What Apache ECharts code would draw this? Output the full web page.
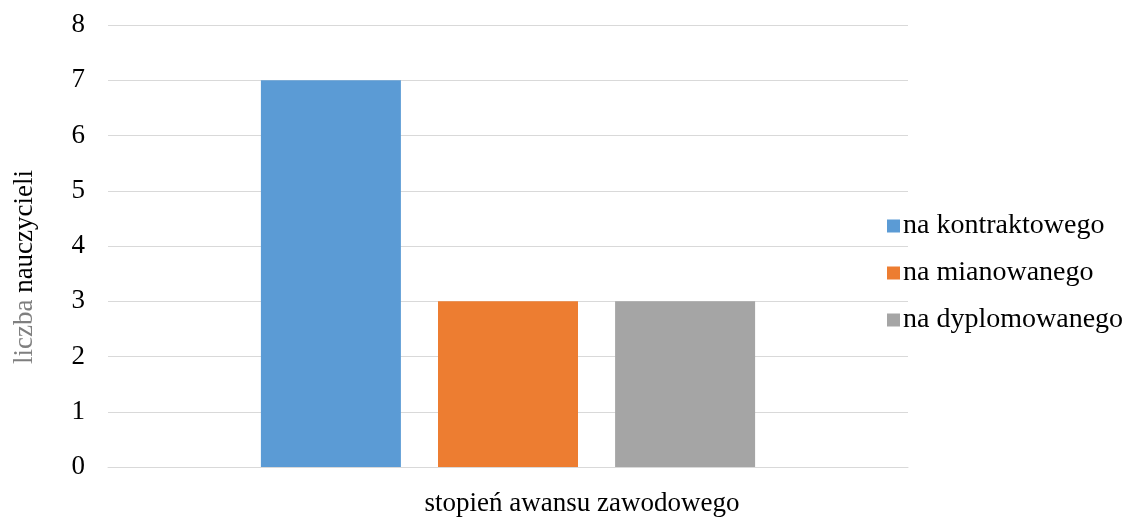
<!DOCTYPE html>
<html><head><meta charset="utf-8">
<script src="https://cdn.jsdelivr.net/npm/echarts@6/dist/echarts.min.js"></script>
<style>html,body{margin:0;padding:0;background:#fff;overflow:hidden}#c{width:1127px;height:518px}</style>
</head><body><div id="c"></div>
<script>
const categories = ['stopień awansu zawodowego'];
const seriesNames = ['na kontraktowego', 'na mianowanego', 'na dyplomowanego'];
const seriesValues = [[7], [3], [3]];
const colors = ['#5B9BD5', '#ED7D31', '#A5A5A5'];
const yTicks = [0, 8, 1];

const chart = echarts.init(document.getElementById('c'));
const font = 'Liberation Serif';
const fs = 27;
chart.setOption({
  animation: false,
  textStyle: { fontFamily: font },
  grid: { left: 108, right: 219, top: 25, bottom: 51, containLabel: false, outerBoundsMode: 'none' },
  legend: {
    orient: 'vertical', left: 882, top: 207, itemWidth: 13, itemHeight: 13, itemGap: 19,
    icon: 'rect',
    textStyle: { fontFamily: font, fontSize: 28, color: '#000', padding: [0, 0, 0, -2] },
    data: seriesNames
  },
  xAxis: {
    type: 'category', data: categories,
    axisLine: { lineStyle: { color: '#D9D9D9' } },
    axisTick: { show: false },
    axisLabel: { show: false },
    name: categories[0], nameLocation: 'middle', nameGap: 23,
    nameTextStyle: { fontFamily: font, fontSize: fs, color: '#000', padding: [0, 0, 0, 148] }
  },
  yAxis: {
    type: 'value', min: yTicks[0], max: yTicks[1], interval: yTicks[2],
    axisLine: { show: false }, axisTick: { show: false },
    splitLine: { lineStyle: { color: '#D9D9D9' } },
    axisLabel: { fontFamily: font, fontSize: fs, color: '#000', margin: 23 },
    name: '{g|liczba} {b|nauczycieli}', nameLocation: 'middle', nameGap: 70, nameRotate: 90,
    nameTextStyle: {
      fontFamily: font, fontSize: fs, padding: [0, 42, 0, 0],
      rich: {
        g: { fontFamily: font, fontSize: fs, color: '#7F7F7F' },
        b: { fontFamily: font, fontSize: fs, color: '#000' }
      }
    }
  },
  series: seriesNames.map((n, i) => ({
    name: n, type: 'bar', data: seriesValues[i],
    barWidth: 140, barGap: '26.5%',
    itemStyle: { color: colors[i] }
  }))
});
</script></body></html>
